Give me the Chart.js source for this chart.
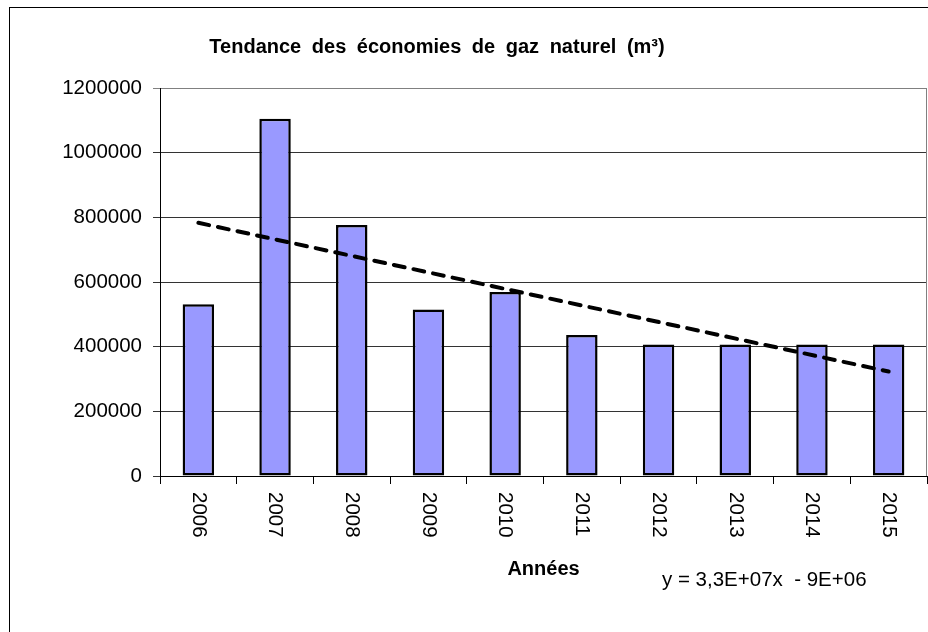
<!DOCTYPE html>
<html>
<head>
<meta charset="utf-8">
<script src="https://cdn.jsdelivr.net/npm/chart.js@4/dist/chart.umd.min.js"></script>
<style>
  body { margin: 0; background: #fff; }
  #wrap { width: 928px; height: 632px; }
</style>
</head>
<body>
<div id="wrap"><canvas id="gasChart" width="928" height="632"></canvas></div>
<script>
// Data
const years = ['2006', '2007', '2008', '2009', '2010', '2011', '2012', '2013', '2014', '2015'];
const savings = [531000, 1105000, 776000, 515000, 569000, 436000, 407000, 407000, 407000, 407000];
const trend = [783000, null, null, null, null, null, null, null, null, 323000];
const yTicks = ['0', '200000', '400000', '600000', '800000', '1000000', '1200000'];

const chartTitle = 'Tendance des économies de gaz naturel (m³)';
const equation = 'y = 3,3E+07x  - 9E+06';

const FONT = '"Liberation Sans", Arial, sans-serif';

// Frame, title, plot border, rotated year labels and the equation
const decorations = {
    id: 'decorations',
    beforeDraw(chart) {
        const ctx = chart.ctx;
        ctx.save();
        ctx.fillStyle = '#fff';
        ctx.fillRect(0, 0, chart.width, chart.height);
        ctx.strokeStyle = '#000';
        ctx.lineWidth = 1;
        ctx.strokeRect(9.5, 7.5, 2000, 2000);
        ctx.restore();
    },
    afterDraw(chart) {
        const ctx = chart.ctx;
        const area = chart.chartArea;
        const x = chart.scales.x;
        ctx.save();

        // grey right edge of the plot area
        ctx.strokeStyle = '#808080';
        ctx.lineWidth = 1;
        ctx.beginPath();
        ctx.moveTo(Math.round(area.right) - 0.5, area.top);
        ctx.lineTo(Math.round(area.right) - 0.5, area.bottom);
        ctx.stroke();

        // chart title
        ctx.fillStyle = '#000';
        ctx.font = 'bold 20px ' + FONT;
        ctx.textAlign = 'center';
        ctx.textBaseline = 'middle';
        ctx.wordSpacing = '5px';
        ctx.fillText(chartTitle, 437, 47);
        ctx.wordSpacing = '0px';

        // year labels, read top to bottom
        ctx.font = '20.5px ' + FONT;
        ctx.textAlign = 'left';
        years.forEach((label, i) => {
            ctx.save();
            ctx.translate(x.getPixelForValue(i), area.bottom + 16);
            ctx.rotate(Math.PI / 2);
            ctx.fillText(label, 0, 0);
            ctx.restore();
        });

        // regression equation
        ctx.textBaseline = 'middle';
        ctx.fillText(equation, 662, 580);
        ctx.restore();
    }
};

const ctx = document.getElementById('gasChart').getContext('2d');
new Chart(ctx, {
    type: 'bar',
    data: {
        labels: years,
        datasets: [{
            type: 'line',
            data: trend,
            spanGaps: true,
            borderColor: '#000',
            borderWidth: 4,
            borderDash: [11, 9],
            borderCapStyle: 'round',
            pointRadius: 0,
            fill: false,
            order: 0
        }, {
            type: 'bar',
            data: savings,
            backgroundColor: '#9999ff',
            borderColor: '#000',
            borderWidth: 2.5,
            borderSkipped: false,
            categoryPercentage: 1,
            barPercentage: 0.41,
            order: 1
        }]
    },
    options: {
        responsive: false,
        animation: false,
        events: [],
        layout: { padding: { top: 88, left: 0, right: 1, bottom: 0 } },
        plugins: {
            legend: { display: false },
            title: { display: false },
            tooltip: { enabled: false }
        },
        scales: {
            x: {
                grid: { drawOnChartArea: false, drawTicks: true, tickLength: 8, color: '#000' },
                border: { color: '#000', width: 1 },
                ticks: { display: false },
                title: {
                    display: true,
                    text: 'Années',
                    color: '#000',
                    font: { family: FONT, size: 20, weight: 'bold' },
                    padding: { top: 0, bottom: 51 }
                },
                afterFit(scale) { scale.height = 156; }
            },
            y: {
                min: 0,
                max: 1200000,
                ticks: {
                    stepSize: 200000,
                    color: '#000',
                    padding: 11,
                    font: { family: FONT, size: 20.5 },
                    callback: (v, i) => yTicks[i]
                },
                grid: {
                    color: c => (c.tick && c.tick.value === 1200000 ? '#808080' : '#333'),
                    tickLength: 7,
                    drawTicks: true
                },
                border: { color: '#000', width: 1 },
                afterFit(scale) { scale.width = 160; }
            }
        }
    },
    plugins: [decorations]
});
</script>
</body>
</html>
